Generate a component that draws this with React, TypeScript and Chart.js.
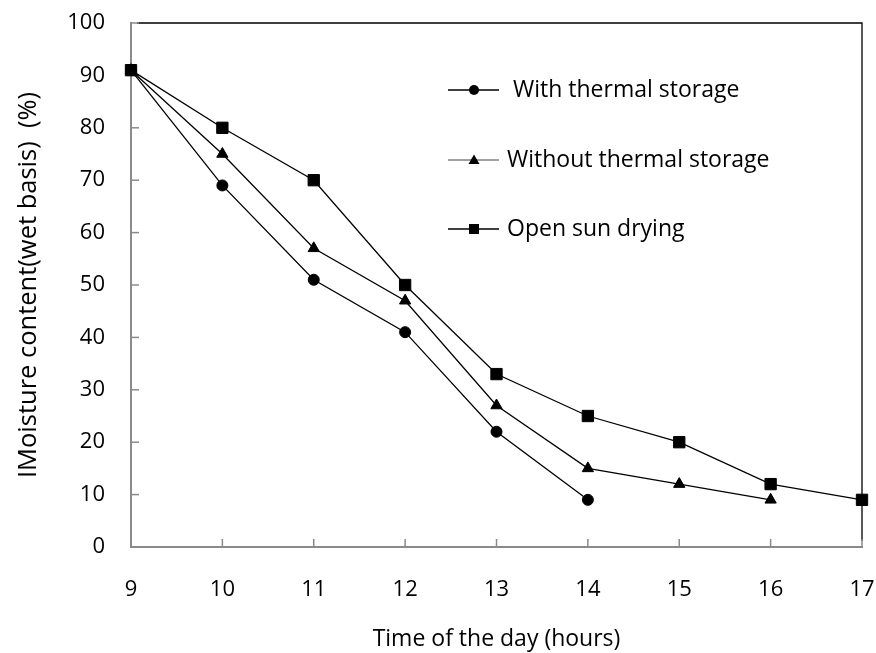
import React, { useEffect, useRef } from 'react';
import { Chart, registerables } from 'chart.js';

Chart.register(...registerables);

const hours = [9, 10, 11, 12, 13, 14, 15, 16, 17];
const withStorage = [91, 69, 51, 41, 22, 9];
const withoutStorage = [91, 75, 57, 47, 27, 15, 12, 9];
const openSun = [91, 80, 70, 50, 33, 25, 20, 12, 9];
const seriesLabels = [' With thermal storage', 'Without thermal storage', 'Open sun drying'];
const xTitle = 'Time of the day (hours)';
const yTitle = 'IMoisture content(wet basis)  (%)';

const FONT = 'Open Sans';
const AXIS_GRAY = '#8a8a8a';

const toPoints = (vals: number[]) => vals.map((v, i) => ({ x: hours[i], y: v }));

const framePlugin = {
  id: 'frame',
  beforeDatasetsDraw(chart: any) {
    const { ctx, chartArea } = chart;
    const { left, right, top, bottom } = chartArea;
    ctx.save();
    ctx.strokeStyle = '#000';
    ctx.lineWidth = 1.3;
    ctx.beginPath();
    ctx.moveTo(left + 6, top);
    ctx.lineTo(right, top);
    ctx.lineTo(right, bottom - 6);
    ctx.stroke();
    ctx.strokeStyle = AXIS_GRAY;
    ctx.lineWidth = 1.5;
    const ys = chart.scales.y;
    ys.ticks.forEach((t: any) => {
      const py = ys.getPixelForValue(t.value);
      ctx.beginPath();
      ctx.moveTo(left, py);
      ctx.lineTo(left + 8, py);
      ctx.stroke();
    });
    const xs = chart.scales.x;
    xs.ticks.forEach((t: any) => {
      const px = xs.getPixelForValue(t.value);
      ctx.beginPath();
      ctx.moveTo(px, bottom);
      ctx.lineTo(px, bottom - 8);
      ctx.stroke();
    });
    ctx.restore();
  },
  afterDraw(chart: any) {
    const { ctx } = chart;
    const items = [
      { y: 90, style: 'circle', color: '#000' },
      { y: 160, style: 'triangle', color: '#808080' },
      { y: 229, style: 'rect', color: '#000' },
    ];
    ctx.save();
    chart.data.datasets.forEach((ds: any, i: number) => {
      const it = items[i];
      const x1 = 448, x2 = 499, cx = 474;
      ctx.strokeStyle = it.color;
      ctx.lineWidth = 1.3;
      ctx.beginPath();
      ctx.moveTo(x1, it.y);
      ctx.lineTo(x2, it.y);
      ctx.stroke();
      ctx.fillStyle = '#000';
      ctx.beginPath();
      if (it.style === 'circle') {
        ctx.arc(cx, it.y, 5, 0, Math.PI * 2);
      } else if (it.style === 'triangle') {
        ctx.moveTo(cx, it.y - 5.5);
        ctx.lineTo(cx + 5.5, it.y + 4);
        ctx.lineTo(cx - 5.5, it.y + 4);
        ctx.closePath();
      } else {
        ctx.rect(cx - 5, it.y - 5, 10, 10);
      }
      ctx.fill();
      ctx.fillStyle = '#000';
      ctx.font = `23px ${FONT}`;
      ctx.textBaseline = 'middle';
      ctx.textAlign = 'left';
      ctx.fillText(ds.label, 507, it.y);
    });
    ctx.restore();
  },
};

export default function App() {
  const ref = useRef<HTMLCanvasElement | null>(null);
  useEffect(() => {
    document.body.style.margin = '0';
    if (!ref.current) return;
    const common = {
      borderColor: '#000',
      borderWidth: 1.3,
      pointBackgroundColor: '#000',
      pointBorderColor: '#000',
      pointBorderWidth: 1,
      tension: 0,
      clip: false as any,
    };
    const chart = new Chart(ref.current, {
      type: 'line',
      data: {
        datasets: [
          { ...common, label: seriesLabels[0], data: toPoints(withStorage), pointStyle: 'circle', pointRadius: 5.5 },
          { ...common, label: seriesLabels[1], data: toPoints(withoutStorage), pointStyle: 'triangle', pointRadius: 6.5 },
          { ...common, label: seriesLabels[2], data: toPoints(openSun), pointStyle: 'rect', pointRadius: 8 },
        ],
      },
      options: {
        animation: false,
        responsive: false,
        layout: { padding: { left: 0, right: 14, top: 23, bottom: 0 } },
        plugins: { legend: { display: false }, tooltip: { enabled: false } },
        scales: {
          x: {
            type: 'linear',
            min: 9,
            max: 17,
            ticks: { stepSize: 1, color: '#000', padding: 30, font: { family: FONT, size: 22 } },
            grid: { display: false, drawTicks: false },
            border: { color: AXIS_GRAY, width: 2 },
            title: { display: true, text: xTitle, color: '#000', font: { family: FONT, size: 23 }, padding: { top: 0, bottom: 0 } },
            afterFit: (s: any) => {
              s.height = 106;
              s.paddingLeft = 0;
              s.paddingRight = 0;
            },
          },
          y: {
            min: 0,
            max: 100,
            ticks: { stepSize: 10, color: '#000', padding: 26, font: { family: FONT, size: 22 } },
            grid: { display: false, drawTicks: false },
            border: { color: AXIS_GRAY, width: 2 },
            title: { display: true, text: yTitle, color: '#000', font: { family: FONT, size: 25.5 }, padding: { top: 13, bottom: 0 } },
            afterFit: (s: any) => {
              s.width = 131;
              s.paddingTop = 0;
              s.paddingBottom = 0;
            },
          },
        },
      },
      plugins: [framePlugin],
    });
    return () => chart.destroy();
  }, []);
  return (
    <div style={{ width: 876, height: 653 }}>
      <canvas ref={ref} width={876} height={653} style={{ display: 'block' }} />
    </div>
  );
}
